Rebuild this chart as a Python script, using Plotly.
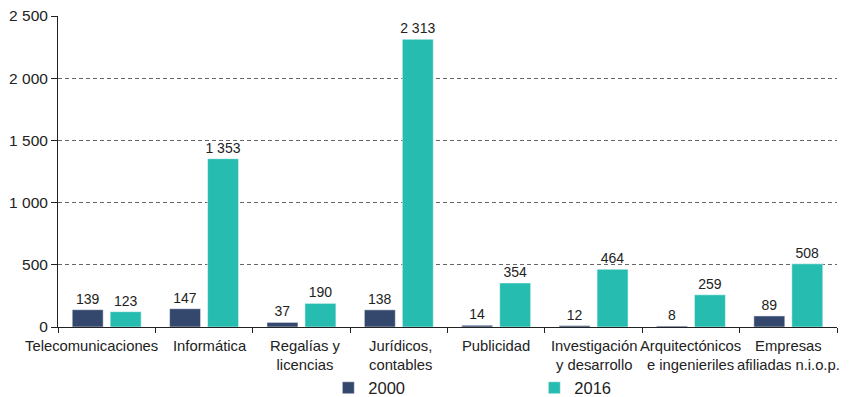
import plotly.graph_objects as go

categories = ["Telecomunicaciones", "Informática", "Regalías y<br>licencias", "Jurídicos,<br>contables",
              "Publicidad", "Investigación<br>y desarrollo", "Arquitectónicos<br>e ingenieriles",
              "Empresas<br>afiliadas n.i.o.p."]
values_2000 = [139, 147, 37, 138, 14, 12, 8, 89]
values_2016 = [123, 1353, 190, 2313, 354, 464, 259, 508]
series_names = ["2000", "2016"]
y_ticks = [0, 500, 1000, 1500, 2000, 2500]

def fmt(v):
    return f"{v:,}".replace(",", " ")

colors = ["#34486e", "#26bcb0"]
font = "Liberation Sans, Arial, sans-serif"

fig = go.Figure()
for name, vals, col in zip(series_names, [values_2000, values_2016], colors):
    fig.add_trace(go.Bar(
        x=categories, y=vals, name=name,
        marker=dict(color=col, line=dict(color="white", width=0.5)),
        text=[fmt(v) for v in vals], textposition="outside",
        textfont=dict(size=14, color="#222", family=font),
        constraintext="none",
        cliponaxis=False,
    ))

# category labels as annotations (first one nudged left, as in the reference)
label_shift = [-15, 6, 4, 2, 0, 0, 0, 0]
for cat, sh in zip(categories, label_shift):
    fig.add_annotation(x=cat, xref="x", y=0, yref="paper", yanchor="top", yshift=-9,
                       xshift=sh, text=cat, showarrow=False,
                       font=dict(size=14.8, color="#222", family=font))

fig.update_layout(
    width=863, height=397,
    margin=dict(l=58, r=26, t=16, b=70, autoexpand=False),
    paper_bgcolor="white", plot_bgcolor="white",
    font=dict(family=font, size=14, color="#222"),
    barmode="group", bargap=0.22, bargroupgap=0.184,
    showlegend=True,
    legend=dict(orientation="h", x=0.347, xanchor="left", y=-0.14, yanchor="top",
                font=dict(size=16.5, color="#222"), entrywidth=161, itemwidth=30,
                traceorder="normal"),
    xaxis=dict(range=[-0.5, len(categories) - 0.5], type="category",
               showline=True, linecolor="#222", linewidth=1, ticks="outside", ticklen=5,
               tickcolor="#222", tickson="boundaries", showticklabels=False,
               automargin=False, showgrid=False),
    yaxis=dict(range=[0, 2500], showline=True, linecolor="#222", linewidth=1, ticks="outside",
               ticklen=6, tickcolor="#222", tickvals=y_ticks, ticktext=[fmt(t) for t in y_ticks],
               tickfont=dict(size=15.5, color="#222"), automargin=False,
               showgrid=True, gridcolor="#666", gridwidth=1, griddash="4px,3px",
               zeroline=False),
)
fig.write_html("out.html")
